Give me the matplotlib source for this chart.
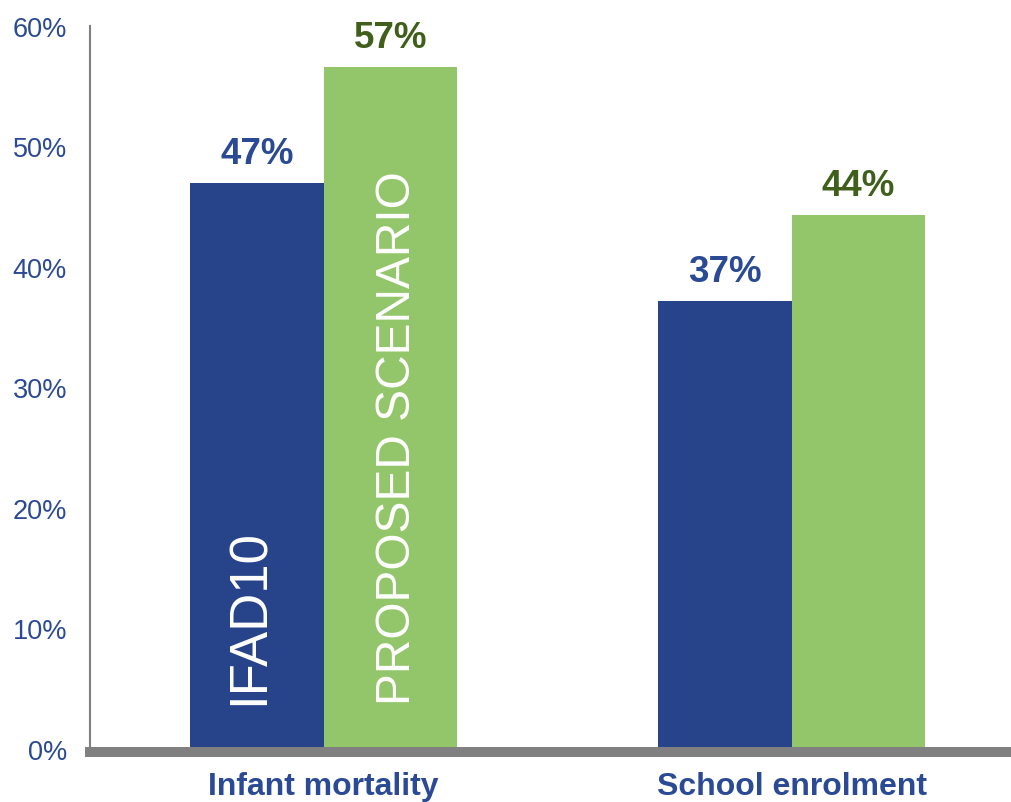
import matplotlib.pyplot as plt
import numpy as np

# chart data
categories = ['Infant mortality', 'School enrolment']
ifad10 = [47.0, 37.2]
proposed = [56.6, 44.3]
yticks = [0, 10, 20, 30, 40, 50, 60]

BLUE = '#27448A'
GREEN = '#93C66B'
BLUE_TXT = '#2B4A95'
GREEN_TXT = '#3F5F1B'
GREY = '#808080'

plt.rcParams['font.family'] = ['Liberation Sans', 'DejaVu Sans']

fig = plt.figure(figsize=(10.12, 8.03), dpi=100)
ax = fig.add_axes([90 / 1012, 53 / 803, 922 / 1012, 723 / 803])

x = np.arange(len(categories))
w = 0.285
b1 = ax.bar(x - w / 2, ifad10, w, color=BLUE, zorder=2)
b2 = ax.bar(x + w / 2, proposed, w, color=GREEN, zorder=2)

# value labels above bars
for bars, vals, col in [(b1, ifad10, BLUE_TXT), (b2, proposed, GREEN_TXT)]:
    for r, v in zip(bars, vals):
        ax.annotate(f'{v:.0f}%', (r.get_x() + r.get_width() / 2, v),
                    xytext=(0, 14.4), textcoords='offset points',
                    ha='center', va='baseline', fontsize=26.5,
                    fontweight='bold', color=col)

# series names written inside the first pair of bars
ax.text(x[0] - w / 2 - 0.015, 3.7, 'IFAD10', rotation=90, ha='center',
        va='bottom', color='white', fontsize=38)
ax.text(x[0] + w / 2 + 0.015, 3.7, 'PROPOSED SCENARIO', rotation=90,
        ha='center', va='bottom', color='white', fontsize=34.5)

# thick grey baseline
ax.axhline(-0.25, xmin=-0.0054, xmax=1, color=GREY, lw=7.2,
           clip_on=False, zorder=3, solid_capstyle='butt')

ax.set_xlim(-0.499, 1.471)
ax.set_ylim(0, 60)
ax.set_yticks(yticks)
ax.set_yticklabels([f'{t}%' for t in yticks])
ax.set_xticks(x)
ax.set_xticklabels(categories, fontsize=23, fontweight='bold', color=BLUE_TXT)
ax.tick_params(axis='y', length=0, pad=16.5, labelsize=19.5, labelcolor=BLUE_TXT)
ax.tick_params(axis='x', length=0, pad=16)

for s in ['top', 'right', 'bottom']:
    ax.spines[s].set_visible(False)
ax.spines['left'].set_color(GREY)
ax.spines['left'].set_linewidth(1.5)

fig.savefig('out.png', dpi=100)
